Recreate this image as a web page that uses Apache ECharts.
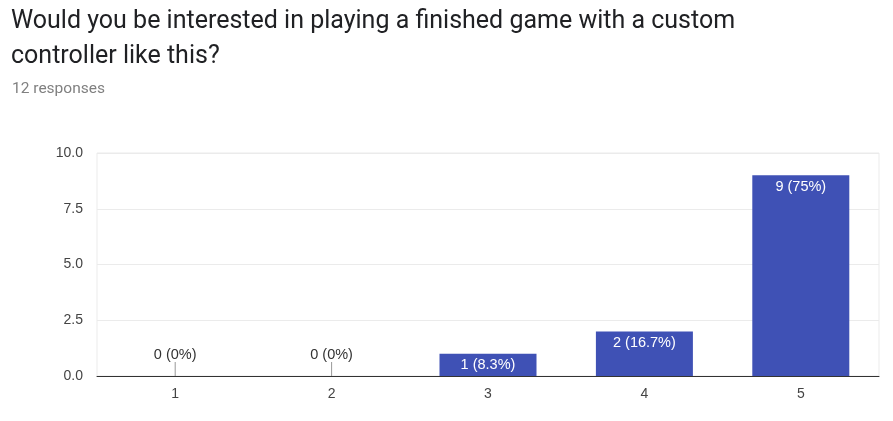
<!DOCTYPE html>
<html>
<head>
<meta charset="utf-8">
<script src="https://cdn.jsdelivr.net/npm/echarts@6/dist/echarts.min.js"></script>
<style>
  html, body { margin: 0; padding: 0; background: #fff; }
  #chart { width: 893px; height: 421px; }
</style>
</head>
<body>
<div id="chart"></div>
<script>
var questionText = 'Would you be interested in playing a finished game with a custom\ncontroller like this?';
var responsesText = '12 responses';
var categories = ['1', '2', '3', '4', '5'];
var counts = [0, 0, 1, 2, 9];
var percents = ['0%', '0%', '8.3%', '16.7%', '75%'];

var myChart = echarts.init(document.getElementById('chart'));

var barData = counts.map(function(v, i) {
	if (v === 0) {
		return {
			value: v,
			label: { position: 'top', color: '#333', distance: 0 }
		};
	}
	return v;
});

var option = {
	animation: false,
	title: [
		{
			text: questionText,
			left: 11,
			top: 4,
			padding: 0,
			textStyle: { fontFamily: 'Roboto', fontSize: 25, fontWeight: 'normal', color: '#202124', lineHeight: 35 }
		},
		{
			text: responsesText,
			left: 12,
			top: 81,
			padding: 0,
			textStyle: { fontFamily: 'Roboto', fontSize: 15.5, fontWeight: 'normal', color: '#808080' }
		}
	],
	grid: {
		left: 97, right: 14, top: 153, bottom: 45,
		show: true, borderColor: '#ebebeb', borderWidth: 1
	},
	xAxis: {
		type: 'category',
		data: categories,
		axisLine: { lineStyle: { color: '#333', width: 1 } },
		axisTick: { show: false },
		axisLabel: { color: '#444', fontFamily: 'Liberation Sans', fontSize: 14, margin: 11 }
	},
	yAxis: {
		type: 'value',
		min: 0, max: 10, interval: 2.5,
		axisLine: { show: false },
		axisTick: { show: false },
		splitLine: { lineStyle: { color: '#ebebeb' } },
		axisLabel: {
			color: '#444', fontFamily: 'Liberation Sans', fontSize: 14, margin: 14,
			formatter: function(v) { return v.toFixed(1); }
		}
	},
	series: [{
		type: 'bar',
		data: barData,
		barWidth: 97,
		itemStyle: { color: '#3f51b5' },
		label: {
			show: true,
			position: 'insideTop',
			distance: 4,
			color: '#fff',
			fontFamily: 'Liberation Sans',
			fontSize: 14.5,
			formatter: function(p) { return counts[p.dataIndex] + ' (' + percents[p.dataIndex] + ')'; }
		},
		labelLine: { show: true, lineStyle: { color: '#999', width: 1 } },
		labelLayout: function(p) {
			if (counts[p.dataIndex] === 0) return { dy: -14 };
			return {};
		}
	}]
};

myChart.setOption(option);
</script>
</body>
</html>
